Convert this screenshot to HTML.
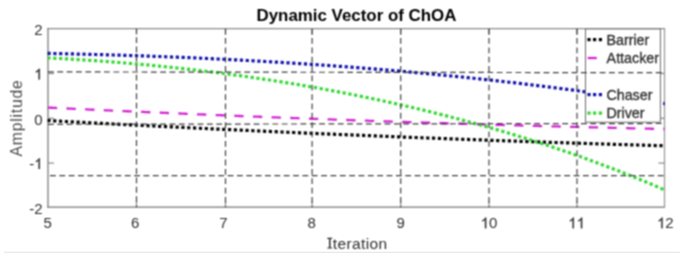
<!DOCTYPE html>
<html><head><meta charset="utf-8"><style>
html,body{margin:0;padding:0;background:#fff;}
body{width:685px;height:253px;overflow:hidden;}
svg{display:block;}
</style></head><body>
<svg width="685" height="253" viewBox="0 0 685 253">
<defs><filter id="bl" x="0" y="0" width="685" height="253" filterUnits="userSpaceOnUse" color-interpolation-filters="sRGB"><feConvolveMatrix order="3" kernelMatrix="1 2 1 2 4 2 1 2 1" edgeMode="duplicate"/></filter></defs>
<g filter="url(#bl)">
<rect x="0" y="0" width="685" height="253" fill="#fff"/>
<line x1="47.35" y1="28.65" x2="665.05" y2="28.65" stroke="#8c8c8c" stroke-width="1.3"/>
<line x1="47.35" y1="207.2" x2="665.05" y2="207.2" stroke="#767676" stroke-width="1.3"/>
<line x1="48" y1="28" x2="48" y2="207.85" stroke="#7c7c7c" stroke-width="1.3"/>
<line x1="664.5" y1="28" x2="664.5" y2="207.85" stroke="#949494" stroke-width="1.2"/>
<line x1="48" y1="73.5" x2="54" y2="73.5" stroke="#8a8a8a" stroke-width="1.2"/>
<line x1="658.4" y1="73.5" x2="664.4" y2="73.5" stroke="#8a8a8a" stroke-width="1.2"/>
<line x1="48" y1="118.3" x2="54" y2="118.3" stroke="#8a8a8a" stroke-width="1.2"/>
<line x1="658.4" y1="118.3" x2="664.4" y2="118.3" stroke="#8a8a8a" stroke-width="1.2"/>
<line x1="48" y1="163.1" x2="54" y2="163.1" stroke="#8a8a8a" stroke-width="1.2"/>
<line x1="658.4" y1="163.1" x2="664.4" y2="163.1" stroke="#8a8a8a" stroke-width="1.2"/>
<line x1="136.5" y1="201.2" x2="136.5" y2="207.2" stroke="#8a8a8a" stroke-width="1.2"/>
<line x1="136.5" y1="28.65" x2="136.5" y2="34.65" stroke="#8a8a8a" stroke-width="1.2"/>
<line x1="225.5" y1="201.2" x2="225.5" y2="207.2" stroke="#8a8a8a" stroke-width="1.2"/>
<line x1="225.5" y1="28.65" x2="225.5" y2="34.65" stroke="#8a8a8a" stroke-width="1.2"/>
<line x1="312.1" y1="201.2" x2="312.1" y2="207.2" stroke="#8a8a8a" stroke-width="1.2"/>
<line x1="312.1" y1="28.65" x2="312.1" y2="34.65" stroke="#8a8a8a" stroke-width="1.2"/>
<line x1="400.7" y1="201.2" x2="400.7" y2="207.2" stroke="#8a8a8a" stroke-width="1.2"/>
<line x1="400.7" y1="28.65" x2="400.7" y2="34.65" stroke="#8a8a8a" stroke-width="1.2"/>
<line x1="489.0" y1="201.2" x2="489.0" y2="207.2" stroke="#8a8a8a" stroke-width="1.2"/>
<line x1="489.0" y1="28.65" x2="489.0" y2="34.65" stroke="#8a8a8a" stroke-width="1.2"/>
<line x1="577.0" y1="201.2" x2="577.0" y2="207.2" stroke="#8a8a8a" stroke-width="1.2"/>
<line x1="577.0" y1="28.65" x2="577.0" y2="34.65" stroke="#8a8a8a" stroke-width="1.2"/>
<clipPath id="cp"><rect x="47.3" y="28" width="617.5" height="180"/></clipPath>
<g clip-path="url(#cp)">
<path d="M47.50,120.52 L49.50,120.63 L51.50,120.73 L53.50,120.84 L55.50,120.95 L57.50,121.06 L59.50,121.16 L61.50,121.27 L63.50,121.38 L65.50,121.48 L67.50,121.59 L69.50,121.69 L71.50,121.80 L73.50,121.91 L75.50,122.01 L77.50,122.12 L79.50,122.22 L81.50,122.33 L83.50,122.43 L85.50,122.54 L87.50,122.64 L89.50,122.75 L91.50,122.85 L93.50,122.96 L95.50,123.06 L97.50,123.16 L99.50,123.27 L101.50,123.37 L103.50,123.47 L105.50,123.58 L107.50,123.68 L109.50,123.78 L111.50,123.88 L113.50,123.99 L115.50,124.09 L117.50,124.19 L119.50,124.29 L121.50,124.40 L123.50,124.50 L125.50,124.60 L127.50,124.70 L129.50,124.80 L131.50,124.90 L133.50,125.00 L135.50,125.10 L137.50,125.20 L139.50,125.30 L141.50,125.40 L143.50,125.50 L145.50,125.60 L147.50,125.70 L149.50,125.80 L151.50,125.90 L153.50,126.00 L155.50,126.10 L157.50,126.20 L159.50,126.30 L161.50,126.40 L163.50,126.49 L165.50,126.59 L167.50,126.69 L169.50,126.79 L171.50,126.88 L173.50,126.98 L175.50,127.08 L177.50,127.18 L179.50,127.27 L181.50,127.37 L183.50,127.47 L185.50,127.56 L187.50,127.66 L189.50,127.75 L191.50,127.85 L193.50,127.95 L195.50,128.04 L197.50,128.14 L199.50,128.23 L201.50,128.33 L203.50,128.42 L205.50,128.52 L207.50,128.61 L209.50,128.71 L211.50,128.80 L213.50,128.89 L215.50,128.99 L217.50,129.08 L219.50,129.17 L221.50,129.27 L223.50,129.36 L225.50,129.45 L227.50,129.55 L229.50,129.64 L231.50,129.73 L233.50,129.82 L235.50,129.92 L237.50,130.01 L239.50,130.10 L241.50,130.19 L243.50,130.28 L245.50,130.37 L247.50,130.47 L249.50,130.56 L251.50,130.65 L253.50,130.74 L255.50,130.83 L257.50,130.92 L259.50,131.01 L261.50,131.10 L263.50,131.19 L265.50,131.28 L267.50,131.37 L269.50,131.46 L271.50,131.55 L273.50,131.64 L275.50,131.72 L277.50,131.81 L279.50,131.90 L281.50,131.99 L283.50,132.08 L285.50,132.17 L287.50,132.25 L289.50,132.34 L291.50,132.43 L293.50,132.52 L295.50,132.60 L297.50,132.69 L299.50,132.78 L301.50,132.86 L303.50,132.95 L305.50,133.04 L307.50,133.12 L309.50,133.21 L311.50,133.29 L313.50,133.38 L315.50,133.46 L317.50,133.55 L319.50,133.63 L321.50,133.72 L323.50,133.80 L325.50,133.89 L327.50,133.97 L329.50,134.06 L331.50,134.14 L333.50,134.22 L335.50,134.31 L337.50,134.39 L339.50,134.48 L341.50,134.56 L343.50,134.64 L345.50,134.72 L347.50,134.81 L349.50,134.89 L351.50,134.97 L353.50,135.05 L355.50,135.14 L357.50,135.22 L359.50,135.30 L361.50,135.38 L363.50,135.46 L365.50,135.54 L367.50,135.62 L369.50,135.71 L371.50,135.79 L373.50,135.87 L375.50,135.95 L377.50,136.03 L379.50,136.11 L381.50,136.19 L383.50,136.27 L385.50,136.35 L387.50,136.43 L389.50,136.50 L391.50,136.58 L393.50,136.66 L395.50,136.74 L397.50,136.82 L399.50,136.90 L401.50,136.98 L403.50,137.05 L405.50,137.13 L407.50,137.21 L409.50,137.29 L411.50,137.36 L413.50,137.44 L415.50,137.52 L417.50,137.60 L419.50,137.67 L421.50,137.75 L423.50,137.82 L425.50,137.90 L427.50,137.98 L429.50,138.05 L431.50,138.13 L433.50,138.20 L435.50,138.28 L437.50,138.35 L439.50,138.43 L441.50,138.50 L443.50,138.58 L445.50,138.65 L447.50,138.73 L449.50,138.80 L451.50,138.87 L453.50,138.95 L455.50,139.02 L457.50,139.10 L459.50,139.17 L461.50,139.24 L463.50,139.31 L465.50,139.39 L467.50,139.46 L469.50,139.53 L471.50,139.60 L473.50,139.68 L475.50,139.75 L477.50,139.82 L479.50,139.89 L481.50,139.96 L483.50,140.03 L485.50,140.11 L487.50,140.18 L489.50,140.25 L491.50,140.32 L493.50,140.39 L495.50,140.46 L497.50,140.53 L499.50,140.60 L501.50,140.67 L503.50,140.74 L505.50,140.81 L507.50,140.88 L509.50,140.94 L511.50,141.01 L513.50,141.08 L515.50,141.15 L517.50,141.22 L519.50,141.29 L521.50,141.36 L523.50,141.42 L525.50,141.49 L527.50,141.56 L529.50,141.63 L531.50,141.69 L533.50,141.76 L535.50,141.83 L537.50,141.89 L539.50,141.96 L541.50,142.03 L543.50,142.09 L545.50,142.16 L547.50,142.22 L549.50,142.29 L551.50,142.36 L553.50,142.42 L555.50,142.49 L557.50,142.55 L559.50,142.62 L561.50,142.68 L563.50,142.74 L565.50,142.81 L567.50,142.87 L569.50,142.94 L571.50,143.00 L573.50,143.06 L575.50,143.13 L577.50,143.19 L579.50,143.25 L581.50,143.32 L583.50,143.38 L585.50,143.44 L587.50,143.50 L589.50,143.57 L591.50,143.63 L593.50,143.69 L595.50,143.75 L597.50,143.81 L599.50,143.88 L601.50,143.94 L603.50,144.00 L605.50,144.06 L607.50,144.12 L609.50,144.18 L611.50,144.24 L613.50,144.30 L615.50,144.36 L617.50,144.42 L619.50,144.48 L621.50,144.54 L623.50,144.60 L625.50,144.66 L627.50,144.72 L629.50,144.78 L631.50,144.84 L633.50,144.89 L635.50,144.95 L637.50,145.01 L639.50,145.07 L641.50,145.13 L643.50,145.18 L645.50,145.24 L647.50,145.30 L649.50,145.36 L651.50,145.41 L653.50,145.47 L655.50,145.53 L657.50,145.58 L659.50,145.64 L661.50,145.70 L663.50,145.75 L665.50,145.81" fill="none" stroke="#000" stroke-width="3.2" stroke-dasharray="3.2 2.6342" stroke-dashoffset="0.144"/>
<path d="M47.50,107.57 L49.50,107.67 L51.50,107.76 L53.50,107.86 L55.50,107.95 L57.50,108.05 L59.50,108.14 L61.50,108.24 L63.50,108.33 L65.50,108.43 L67.50,108.52 L69.50,108.61 L71.50,108.71 L73.50,108.80 L75.50,108.90 L77.50,108.99 L79.50,109.08 L81.50,109.18 L83.50,109.27 L85.50,109.36 L87.50,109.45 L89.50,109.55 L91.50,109.64 L93.50,109.73 L95.50,109.82 L97.50,109.91 L99.50,110.00 L101.50,110.10 L103.50,110.19 L105.50,110.28 L107.50,110.37 L109.50,110.46 L111.50,110.55 L113.50,110.64 L115.50,110.73 L117.50,110.82 L119.50,110.91 L121.50,111.00 L123.50,111.09 L125.50,111.18 L127.50,111.27 L129.50,111.36 L131.50,111.44 L133.50,111.53 L135.50,111.62 L137.50,111.71 L139.50,111.80 L141.50,111.88 L143.50,111.97 L145.50,112.06 L147.50,112.15 L149.50,112.23 L151.50,112.32 L153.50,112.41 L155.50,112.50 L157.50,112.58 L159.50,112.67 L161.50,112.75 L163.50,112.84 L165.50,112.93 L167.50,113.01 L169.50,113.10 L171.50,113.18 L173.50,113.27 L175.50,113.35 L177.50,113.44 L179.50,113.52 L181.50,113.61 L183.50,113.69 L185.50,113.77 L187.50,113.86 L189.50,113.94 L191.50,114.03 L193.50,114.11 L195.50,114.19 L197.50,114.28 L199.50,114.36 L201.50,114.44 L203.50,114.52 L205.50,114.61 L207.50,114.69 L209.50,114.77 L211.50,114.85 L213.50,114.93 L215.50,115.02 L217.50,115.10 L219.50,115.18 L221.50,115.26 L223.50,115.34 L225.50,115.42 L227.50,115.50 L229.50,115.58 L231.50,115.66 L233.50,115.74 L235.50,115.82 L237.50,115.90 L239.50,115.98 L241.50,116.06 L243.50,116.14 L245.50,116.22 L247.50,116.30 L249.50,116.38 L251.50,116.45 L253.50,116.53 L255.50,116.61 L257.50,116.69 L259.50,116.77 L261.50,116.84 L263.50,116.92 L265.50,117.00 L267.50,117.08 L269.50,117.15 L271.50,117.23 L273.50,117.31 L275.50,117.38 L277.50,117.46 L279.50,117.54 L281.50,117.61 L283.50,117.69 L285.50,117.76 L287.50,117.84 L289.50,117.91 L291.50,117.99 L293.50,118.06 L295.50,118.14 L297.50,118.21 L299.50,118.29 L301.50,118.36 L303.50,118.44 L305.50,118.51 L307.50,118.58 L309.50,118.66 L311.50,118.73 L313.50,118.80 L315.50,118.88 L317.50,118.95 L319.50,119.02 L321.50,119.09 L323.50,119.17 L325.50,119.24 L327.50,119.31 L329.50,119.38 L331.50,119.45 L333.50,119.53 L335.50,119.60 L337.50,119.67 L339.50,119.74 L341.50,119.81 L343.50,119.88 L345.50,119.95 L347.50,120.02 L349.50,120.09 L351.50,120.16 L353.50,120.23 L355.50,120.30 L357.50,120.37 L359.50,120.44 L361.50,120.51 L363.50,120.58 L365.50,120.65 L367.50,120.72 L369.50,120.78 L371.50,120.85 L373.50,120.92 L375.50,120.99 L377.50,121.06 L379.50,121.12 L381.50,121.19 L383.50,121.26 L385.50,121.33 L387.50,121.39 L389.50,121.46 L391.50,121.53 L393.50,121.59 L395.50,121.66 L397.50,121.72 L399.50,121.79 L401.50,121.86 L403.50,121.92 L405.50,121.99 L407.50,122.05 L409.50,122.12 L411.50,122.18 L413.50,122.25 L415.50,122.31 L417.50,122.38 L419.50,122.44 L421.50,122.50 L423.50,122.57 L425.50,122.63 L427.50,122.70 L429.50,122.76 L431.50,122.82 L433.50,122.88 L435.50,122.95 L437.50,123.01 L439.50,123.07 L441.50,123.13 L443.50,123.20 L445.50,123.26 L447.50,123.32 L449.50,123.38 L451.50,123.44 L453.50,123.51 L455.50,123.57 L457.50,123.63 L459.50,123.69 L461.50,123.75 L463.50,123.81 L465.50,123.87 L467.50,123.93 L469.50,123.99 L471.50,124.05 L473.50,124.11 L475.50,124.17 L477.50,124.23 L479.50,124.29 L481.50,124.35 L483.50,124.40 L485.50,124.46 L487.50,124.52 L489.50,124.58 L491.50,124.64 L493.50,124.70 L495.50,124.75 L497.50,124.81 L499.50,124.87 L501.50,124.93 L503.50,124.98 L505.50,125.04 L507.50,125.10 L509.50,125.15 L511.50,125.21 L513.50,125.27 L515.50,125.32 L517.50,125.38 L519.50,125.43 L521.50,125.49 L523.50,125.54 L525.50,125.60 L527.50,125.65 L529.50,125.71 L531.50,125.76 L533.50,125.82 L535.50,125.87 L537.50,125.93 L539.50,125.98 L541.50,126.03 L543.50,126.09 L545.50,126.14 L547.50,126.19 L549.50,126.25 L551.50,126.30 L553.50,126.35 L555.50,126.41 L557.50,126.46 L559.50,126.51 L561.50,126.56 L563.50,126.61 L565.50,126.67 L567.50,126.72 L569.50,126.77 L571.50,126.82 L573.50,126.87 L575.50,126.92 L577.50,126.97 L579.50,127.02 L581.50,127.07 L583.50,127.12 L585.50,127.17 L587.50,127.22 L589.50,127.27 L591.50,127.32 L593.50,127.37 L595.50,127.42 L597.50,127.47 L599.50,127.52 L601.50,127.57 L603.50,127.62 L605.50,127.67 L607.50,127.71 L609.50,127.76 L611.50,127.81 L613.50,127.86 L615.50,127.91 L617.50,127.95 L619.50,128.00 L621.50,128.05 L623.50,128.09 L625.50,128.14 L627.50,128.19 L629.50,128.23 L631.50,128.28 L633.50,128.33 L635.50,128.37 L637.50,128.42 L639.50,128.46 L641.50,128.51 L643.50,128.55 L645.50,128.60 L647.50,128.64 L649.50,128.69 L651.50,128.73 L653.50,128.78 L655.50,128.82 L657.50,128.86 L659.50,128.91 L661.50,128.95 L663.50,128.99 L665.50,129.04" fill="none" stroke="#d424d4" stroke-width="2.3" stroke-dasharray="9.3 9.3654" stroke-dashoffset="-19.005"/>
<path d="M47.50,57.90 L49.50,58.00 L51.50,58.10 L53.50,58.19 L55.50,58.30 L57.50,58.40 L59.50,58.50 L61.50,58.61 L63.50,58.72 L65.50,58.83 L67.50,58.94 L69.50,59.05 L71.50,59.17 L73.50,59.29 L75.50,59.41 L77.50,59.53 L79.50,59.65 L81.50,59.78 L83.50,59.90 L85.50,60.03 L87.50,60.16 L89.50,60.30 L91.50,60.43 L93.50,60.57 L95.50,60.71 L97.50,60.85 L99.50,60.99 L101.50,61.13 L103.50,61.28 L105.50,61.43 L107.50,61.58 L109.50,61.73 L111.50,61.88 L113.50,62.04 L115.50,62.19 L117.50,62.35 L119.50,62.51 L121.50,62.68 L123.50,62.84 L125.50,63.01 L127.50,63.18 L129.50,63.35 L131.50,63.52 L133.50,63.69 L135.50,63.87 L137.50,64.05 L139.50,64.23 L141.50,64.41 L143.50,64.59 L145.50,64.78 L147.50,64.96 L149.50,65.15 L151.50,65.34 L153.50,65.54 L155.50,65.73 L157.50,65.93 L159.50,66.13 L161.50,66.33 L163.50,66.53 L165.50,66.74 L167.50,66.94 L169.50,67.15 L171.50,67.36 L173.50,67.57 L175.50,67.79 L177.50,68.00 L179.50,68.22 L181.50,68.44 L183.50,68.66 L185.50,68.88 L187.50,69.11 L189.50,69.34 L191.50,69.57 L193.50,69.80 L195.50,70.03 L197.50,70.27 L199.50,70.50 L201.50,70.74 L203.50,70.98 L205.50,71.22 L207.50,71.47 L209.50,71.72 L211.50,71.96 L213.50,72.21 L215.50,72.47 L217.50,72.72 L219.50,72.98 L221.50,73.24 L223.50,73.50 L225.50,73.76 L227.50,74.02 L229.50,74.29 L231.50,74.56 L233.50,74.83 L235.50,75.10 L237.50,75.37 L239.50,75.65 L241.50,75.93 L243.50,76.21 L245.50,76.49 L247.50,76.77 L249.50,77.06 L251.50,77.35 L253.50,77.64 L255.50,77.93 L257.50,78.22 L259.50,78.52 L261.50,78.82 L263.50,79.12 L265.50,79.42 L267.50,79.72 L269.50,80.03 L271.50,80.34 L273.50,80.65 L275.50,80.96 L277.50,81.28 L279.50,81.59 L281.50,81.91 L283.50,82.23 L285.50,82.55 L287.50,82.88 L289.50,83.21 L291.50,83.54 L293.50,83.87 L295.50,84.20 L297.50,84.54 L299.50,84.87 L301.50,85.21 L303.50,85.55 L305.50,85.90 L307.50,86.24 L309.50,86.59 L311.50,86.94 L313.50,87.30 L315.50,87.65 L317.50,88.01 L319.50,88.37 L321.50,88.73 L323.50,89.09 L325.50,89.46 L327.50,89.82 L329.50,90.19 L331.50,90.57 L333.50,90.94 L335.50,91.32 L337.50,91.69 L339.50,92.08 L341.50,92.46 L343.50,92.84 L345.50,93.23 L347.50,93.62 L349.50,94.01 L351.50,94.41 L353.50,94.81 L355.50,95.21 L357.50,95.61 L359.50,96.01 L361.50,96.42 L363.50,96.82 L365.50,97.23 L367.50,97.65 L369.50,98.06 L371.50,98.48 L373.50,98.90 L375.50,99.32 L377.50,99.75 L379.50,100.17 L381.50,100.60 L383.50,101.04 L385.50,101.47 L387.50,101.91 L389.50,102.35 L391.50,102.79 L393.50,103.23 L395.50,103.68 L397.50,104.13 L399.50,104.58 L401.50,105.03 L403.50,105.49 L405.50,105.95 L407.50,106.41 L409.50,106.87 L411.50,107.34 L413.50,107.80 L415.50,108.27 L417.50,108.75 L419.50,109.22 L421.50,109.70 L423.50,110.18 L425.50,110.67 L427.50,111.15 L429.50,111.64 L431.50,112.13 L433.50,112.63 L435.50,113.12 L437.50,113.62 L439.50,114.13 L441.50,114.63 L443.50,115.14 L445.50,115.65 L447.50,116.16 L449.50,116.67 L451.50,117.19 L453.50,117.71 L455.50,118.24 L457.50,118.76 L459.50,119.29 L461.50,119.82 L463.50,120.36 L465.50,120.89 L467.50,121.43 L469.50,121.97 L471.50,122.52 L473.50,123.07 L475.50,123.62 L477.50,124.17 L479.50,124.73 L481.50,125.29 L483.50,125.85 L485.50,126.41 L487.50,126.98 L489.50,127.55 L491.50,128.12 L493.50,128.70 L495.50,129.28 L497.50,129.86 L499.50,130.44 L501.50,131.03 L503.50,131.62 L505.50,132.22 L507.50,132.81 L509.50,133.41 L511.50,134.02 L513.50,134.62 L515.50,135.23 L517.50,135.84 L519.50,136.46 L521.50,137.07 L523.50,137.69 L525.50,138.32 L527.50,138.95 L529.50,139.58 L531.50,140.21 L533.50,140.84 L535.50,141.48 L537.50,142.13 L539.50,142.77 L541.50,143.42 L543.50,144.07 L545.50,144.73 L547.50,145.39 L549.50,146.05 L551.50,146.71 L553.50,147.38 L555.50,148.05 L557.50,148.72 L559.50,149.40 L561.50,150.08 L563.50,150.77 L565.50,151.46 L567.50,152.15 L569.50,152.84 L571.50,153.54 L573.50,154.24 L575.50,154.94 L577.50,155.65 L579.50,156.36 L581.50,157.08 L583.50,157.79 L585.50,158.52 L587.50,159.24 L589.50,159.97 L591.50,160.70 L593.50,161.43 L595.50,162.17 L597.50,162.92 L599.50,163.66 L601.50,164.41 L603.50,165.16 L605.50,165.92 L607.50,166.68 L609.50,167.44 L611.50,168.21 L613.50,168.98 L615.50,169.76 L617.50,170.53 L619.50,171.32 L621.50,172.10 L623.50,172.89 L625.50,173.68 L627.50,174.48 L629.50,175.28 L631.50,176.08 L633.50,176.89 L635.50,177.70 L637.50,178.52 L639.50,179.34 L641.50,180.16 L643.50,180.99 L645.50,181.82 L647.50,182.65 L649.50,183.49 L651.50,184.34 L653.50,185.18 L655.50,186.03 L657.50,186.89 L659.50,187.74 L661.50,188.61 L663.50,189.47 L665.50,190.34" fill="none" stroke="#33d633" stroke-width="3.2" stroke-dasharray="3.2 2.6333" stroke-dashoffset="0.105"/>
<path d="M47.50,53.41 L49.50,53.44 L51.50,53.48 L53.50,53.52 L55.50,53.56 L57.50,53.60 L59.50,53.65 L61.50,53.69 L63.50,53.73 L65.50,53.77 L67.50,53.82 L69.50,53.86 L71.50,53.91 L73.50,53.95 L75.50,54.00 L77.50,54.05 L79.50,54.09 L81.50,54.14 L83.50,54.19 L85.50,54.24 L87.50,54.29 L89.50,54.34 L91.50,54.39 L93.50,54.44 L95.50,54.49 L97.50,54.55 L99.50,54.60 L101.50,54.66 L103.50,54.71 L105.50,54.77 L107.50,54.82 L109.50,54.88 L111.50,54.94 L113.50,55.00 L115.50,55.05 L117.50,55.11 L119.50,55.17 L121.50,55.23 L123.50,55.30 L125.50,55.36 L127.50,55.42 L129.50,55.48 L131.50,55.55 L133.50,55.61 L135.50,55.68 L137.50,55.75 L139.50,55.81 L141.50,55.88 L143.50,55.95 L145.50,56.02 L147.50,56.09 L149.50,56.16 L151.50,56.23 L153.50,56.30 L155.50,56.37 L157.50,56.45 L159.50,56.52 L161.50,56.59 L163.50,56.67 L165.50,56.75 L167.50,56.82 L169.50,56.90 L171.50,56.98 L173.50,57.06 L175.50,57.14 L177.50,57.22 L179.50,57.30 L181.50,57.38 L183.50,57.46 L185.50,57.54 L187.50,57.63 L189.50,57.71 L191.50,57.80 L193.50,57.88 L195.50,57.97 L197.50,58.06 L199.50,58.15 L201.50,58.24 L203.50,58.33 L205.50,58.42 L207.50,58.51 L209.50,58.60 L211.50,58.69 L213.50,58.79 L215.50,58.88 L217.50,58.98 L219.50,59.07 L221.50,59.17 L223.50,59.27 L225.50,59.36 L227.50,59.46 L229.50,59.56 L231.50,59.66 L233.50,59.77 L235.50,59.87 L237.50,59.97 L239.50,60.07 L241.50,60.18 L243.50,60.28 L245.50,60.39 L247.50,60.50 L249.50,60.60 L251.50,60.71 L253.50,60.82 L255.50,60.93 L257.50,61.04 L259.50,61.16 L261.50,61.27 L263.50,61.38 L265.50,61.50 L267.50,61.61 L269.50,61.73 L271.50,61.84 L273.50,61.96 L275.50,62.08 L277.50,62.20 L279.50,62.32 L281.50,62.44 L283.50,62.56 L285.50,62.68 L287.50,62.81 L289.50,62.93 L291.50,63.06 L293.50,63.18 L295.50,63.31 L297.50,63.44 L299.50,63.56 L301.50,63.69 L303.50,63.82 L305.50,63.95 L307.50,64.09 L309.50,64.22 L311.50,64.35 L313.50,64.49 L315.50,64.62 L317.50,64.76 L319.50,64.90 L321.50,65.03 L323.50,65.17 L325.50,65.31 L327.50,65.45 L329.50,65.59 L331.50,65.74 L333.50,65.88 L335.50,66.02 L337.50,66.17 L339.50,66.32 L341.50,66.46 L343.50,66.61 L345.50,66.76 L347.50,66.91 L349.50,67.06 L351.50,67.21 L353.50,67.36 L355.50,67.52 L357.50,67.67 L359.50,67.83 L361.50,67.98 L363.50,68.14 L365.50,68.30 L367.50,68.46 L369.50,68.62 L371.50,68.78 L373.50,68.94 L375.50,69.10 L377.50,69.26 L379.50,69.43 L381.50,69.59 L383.50,69.76 L385.50,69.93 L387.50,70.10 L389.50,70.26 L391.50,70.43 L393.50,70.61 L395.50,70.78 L397.50,70.95 L399.50,71.12 L401.50,71.30 L403.50,71.48 L405.50,71.65 L407.50,71.83 L409.50,72.01 L411.50,72.19 L413.50,72.37 L415.50,72.55 L417.50,72.73 L419.50,72.92 L421.50,73.10 L423.50,73.29 L425.50,73.47 L427.50,73.66 L429.50,73.85 L431.50,74.04 L433.50,74.23 L435.50,74.42 L437.50,74.62 L439.50,74.81 L441.50,75.00 L443.50,75.20 L445.50,75.40 L447.50,75.59 L449.50,75.79 L451.50,75.99 L453.50,76.19 L455.50,76.40 L457.50,76.60 L459.50,76.80 L461.50,77.01 L463.50,77.21 L465.50,77.42 L467.50,77.63 L469.50,77.84 L471.50,78.05 L473.50,78.26 L475.50,78.47 L477.50,78.69 L479.50,78.90 L481.50,79.11 L483.50,79.33 L485.50,79.55 L487.50,79.77 L489.50,79.99 L491.50,80.21 L493.50,80.43 L495.50,80.65 L497.50,80.88 L499.50,81.10 L501.50,81.33 L503.50,81.55 L505.50,81.78 L507.50,82.01 L509.50,82.24 L511.50,82.47 L513.50,82.71 L515.50,82.94 L517.50,83.17 L519.50,83.41 L521.50,83.65 L523.50,83.89 L525.50,84.12 L527.50,84.37 L529.50,84.61 L531.50,84.85 L533.50,85.09 L535.50,85.34 L537.50,85.58 L539.50,85.83 L541.50,86.08 L543.50,86.33 L545.50,86.58 L547.50,86.83 L549.50,87.08 L551.50,87.33 L553.50,87.59 L555.50,87.85 L557.50,88.10 L559.50,88.36 L561.50,88.62 L563.50,88.88 L565.50,89.14 L567.50,89.41 L569.50,89.67 L571.50,89.93 L573.50,90.20 L575.50,90.47 L577.50,90.74 L579.50,91.01 L581.50,91.28 L583.50,91.55 L585.50,91.82 L587.50,92.10 L589.50,92.37 L591.50,92.65 L593.50,92.93 L595.50,93.21 L597.50,93.49 L599.50,93.77 L601.50,94.05 L603.50,94.33 L605.50,94.62 L607.50,94.91 L609.50,95.19 L611.50,95.48 L613.50,95.77 L615.50,96.06 L617.50,96.35 L619.50,96.65 L621.50,96.94 L623.50,97.24 L625.50,97.54 L627.50,97.83 L629.50,98.13 L631.50,98.43 L633.50,98.74 L635.50,99.04 L637.50,99.34 L639.50,99.65 L641.50,99.96 L643.50,100.26 L645.50,100.57 L647.50,100.88 L649.50,101.19 L651.50,101.51 L653.50,101.82 L655.50,102.14 L657.50,102.45 L659.50,102.77 L661.50,103.09 L663.50,103.41 L665.50,103.73" fill="none" stroke="#1010aa" stroke-width="3.2" stroke-dasharray="3.2 2.6328" stroke-dashoffset="0.021"/>
</g>
<rect x="585.5" y="28.9" width="74.9" height="93.3" fill="#fff" stroke="#6a6a6a" stroke-width="1.0"/>
<line x1="136.5" y1="28.7" x2="136.5" y2="207.2" fill="none" stroke="#404040" stroke-width="1.2" stroke-dasharray="5.8 3.55" stroke-dashoffset="0.8"/>
<line x1="225.5" y1="28.7" x2="225.5" y2="207.2" fill="none" stroke="#404040" stroke-width="1.2" stroke-dasharray="5.8 3.55" stroke-dashoffset="0"/>
<line x1="312.1" y1="28.7" x2="312.1" y2="207.2" fill="none" stroke="#404040" stroke-width="1.2" stroke-dasharray="5.8 3.55" stroke-dashoffset="0"/>
<line x1="400.7" y1="28.7" x2="400.7" y2="207.2" fill="none" stroke="#404040" stroke-width="1.2" stroke-dasharray="5.8 3.55" stroke-dashoffset="0"/>
<line x1="489.0" y1="28.7" x2="489.0" y2="207.2" fill="none" stroke="#404040" stroke-width="1.2" stroke-dasharray="5.8 3.55" stroke-dashoffset="0"/>
<line x1="577.0" y1="28.7" x2="577.0" y2="207.2" fill="none" stroke="#404040" stroke-width="1.2" stroke-dasharray="5.8 3.55" stroke-dashoffset="0"/>
<line x1="48" y1="71.9" x2="664" y2="72.7" fill="none" stroke="#404040" stroke-width="1.2" stroke-dasharray="5.8 3.55" stroke-dashoffset="0"/>
<line x1="48" y1="124.3" x2="664" y2="123.5" fill="none" stroke="#404040" stroke-width="1.2" stroke-dasharray="5.8 3.55" stroke-dashoffset="0"/>
<line x1="48" y1="175.6" x2="664" y2="175.6" fill="none" stroke="#404040" stroke-width="1.2" stroke-dasharray="5.8 3.55" stroke-dashoffset="-2.0"/>
<rect x="587.4" y="38.0" width="3.2" height="3.2" fill="#000"/>
<rect x="593.0" y="38.0" width="3.2" height="3.2" fill="#000"/>
<rect x="598.8" y="38.0" width="3.2" height="3.2" fill="#000"/>
<rect x="587.4" y="93.0" width="3.2" height="3.2" fill="#1010aa"/>
<rect x="593.0" y="93.0" width="3.2" height="3.2" fill="#1010aa"/>
<rect x="598.8" y="93.0" width="3.2" height="3.2" fill="#1010aa"/>
<rect x="587.4" y="111.5" width="3.2" height="3.2" fill="#33d633"/>
<rect x="593.0" y="111.5" width="3.2" height="3.2" fill="#33d633"/>
<rect x="598.8" y="111.5" width="3.2" height="3.2" fill="#33d633"/>
<line x1="587.7" y1="58" x2="596.8" y2="58" stroke="#d424d4" stroke-width="2.3"/>
<rect x="4" y="252" width="676" height="1" fill="#e2e2e2"/>
<text x="356.45" y="21.1" font-family="Liberation Sans, sans-serif" font-size="16.9" font-weight="bold" text-anchor="middle" fill="#000">Dynamic Vector of ChOA</text>
<text x="43.380" y="228.3" font-family="Liberation Sans, sans-serif" font-size="15" fill="#2e2e2e">5</text>
<text x="131.030" y="228.3" font-family="Liberation Sans, sans-serif" font-size="15" fill="#2e2e2e">6</text>
<text x="219.230" y="228.3" font-family="Liberation Sans, sans-serif" font-size="15" fill="#2e2e2e">7</text>
<text x="307.580" y="228.3" font-family="Liberation Sans, sans-serif" font-size="15" fill="#2e2e2e">8</text>
<text x="396.380" y="228.3" font-family="Liberation Sans, sans-serif" font-size="15" fill="#2e2e2e">9</text>
<path transform="translate(480.660 228.3) scale(0.007324 -0.007324)" d="M763 0 L583 0 L583 1147 C540 1106 483 1065 413 1024 C342 983 279 952 223 931 L223 1105 C324 1152 412 1210 487 1277 C562 1344 615 1410 646 1466 L763 1466 Z" fill="#2e2e2e" stroke="#2e2e2e" stroke-width="30"/>
<text x="489.000" y="228.3" font-family="Liberation Sans, sans-serif" font-size="15" fill="#2e2e2e">0</text>
<path transform="translate(568.260 228.3) scale(0.007324 -0.007324)" d="M763 0 L583 0 L583 1147 C540 1106 483 1065 413 1024 C342 983 279 952 223 931 L223 1105 C324 1152 412 1210 487 1277 C562 1344 615 1410 646 1466 L763 1466 Z" fill="#2e2e2e" stroke="#2e2e2e" stroke-width="30"/>
<path transform="translate(576.600 228.3) scale(0.007324 -0.007324)" d="M763 0 L583 0 L583 1147 C540 1106 483 1065 413 1024 C342 983 279 952 223 931 L223 1105 C324 1152 412 1210 487 1277 C562 1344 615 1410 646 1466 L763 1466 Z" fill="#2e2e2e" stroke="#2e2e2e" stroke-width="30"/>
<path transform="translate(657.010 228.3) scale(0.007324 -0.007324)" d="M763 0 L583 0 L583 1147 C540 1106 483 1065 413 1024 C342 983 279 952 223 931 L223 1105 C324 1152 412 1210 487 1277 C562 1344 615 1410 646 1466 L763 1466 Z" fill="#2e2e2e" stroke="#2e2e2e" stroke-width="30"/>
<text x="665.350" y="228.3" font-family="Liberation Sans, sans-serif" font-size="15" fill="#2e2e2e">2</text>
<text x="34.260" y="34.7" font-family="Liberation Sans, sans-serif" font-size="15" fill="#2e2e2e">2</text>
<path transform="translate(34.260 79.4) scale(0.007324 -0.007324)" d="M763 0 L583 0 L583 1147 C540 1106 483 1065 413 1024 C342 983 279 952 223 931 L223 1105 C324 1152 412 1210 487 1277 C562 1344 615 1410 646 1466 L763 1466 Z" fill="#2e2e2e" stroke="#2e2e2e" stroke-width="30"/>
<text x="34.260" y="124.8" font-family="Liberation Sans, sans-serif" font-size="15" fill="#2e2e2e">0</text>
<text x="29.265" y="169.0" font-family="Liberation Sans, sans-serif" font-size="15" fill="#2e2e2e">-</text>
<path transform="translate(34.260 169.0) scale(0.007324 -0.007324)" d="M763 0 L583 0 L583 1147 C540 1106 483 1065 413 1024 C342 983 279 952 223 931 L223 1105 C324 1152 412 1210 487 1277 C562 1344 615 1410 646 1466 L763 1466 Z" fill="#2e2e2e" stroke="#2e2e2e" stroke-width="30"/>
<text x="29.265" y="214.1" font-family="Liberation Sans, sans-serif" font-size="15" fill="#2e2e2e">-</text>
<text x="34.260" y="214.1" font-family="Liberation Sans, sans-serif" font-size="15" fill="#2e2e2e">2</text>
<path d="M329.0 238.9 H330.5 V247.5 H329.0 Z M327.3 237.8 H332.2 V238.95 H327.3 Z M327.3 247.45 H332.2 V248.6 H327.3 Z" fill="#2e2e2e"/>
<text x="332.7" y="248.6" font-family="Liberation Sans, sans-serif" font-size="15.5" letter-spacing="0.4" fill="#2e2e2e">teration</text>
<text transform="translate(22.1 118.0) rotate(-90)" x="0" y="0" font-family="Liberation Sans, sans-serif" font-size="15.7" letter-spacing="0.8" text-anchor="middle" fill="#4a4a4a">Amplitude</text>
<text x="606.4" y="44.5" font-family="Liberation Sans, sans-serif" font-size="14.3" fill="#2c2c2c" stroke="#2c2c2c" stroke-width="0.3">Barrier</text>
<text x="606.6" y="62.7" font-family="Liberation Sans, sans-serif" font-size="14.3" fill="#2c2c2c" stroke="#2c2c2c" stroke-width="0.3">Attacker</text>
<text x="606.4" y="100.0" font-family="Liberation Sans, sans-serif" font-size="14.3" fill="#2c2c2c" stroke="#2c2c2c" stroke-width="0.3">Chaser</text>
<text x="606.4" y="118.1" font-family="Liberation Sans, sans-serif" font-size="14.3" fill="#2c2c2c" stroke="#2c2c2c" stroke-width="0.3">Driver</text>
</g>
</svg>
</body></html>
